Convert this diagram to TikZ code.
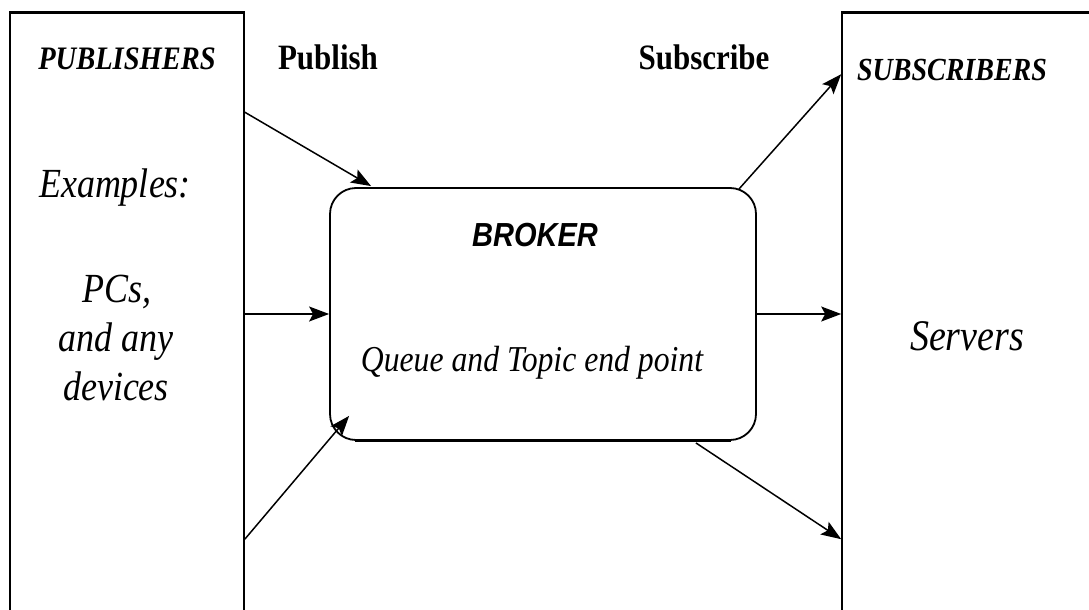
\documentclass[tikz,border=0pt]{standalone}
\usepackage{fontspec}
\setmainfont{Liberation Serif}
\newfontfamily\brokerfont{Liberation Sans}
\usetikzlibrary{arrows.meta,calc}
% labels are set a little taller than their natural shape
\newcommand\tallset[1]{\scalebox{1}[1.15]{#1}}
\begin{document}
\begin{tikzpicture}[x=1pt,y=-1pt,
  sidebox/.style={draw,line width=1.6pt,rectangle,inner sep=0pt},
  brokerbox/.style={draw,line width=1.8pt,rectangle,rounded corners=26pt,inner sep=0pt,
    minimum width=426pt,minimum height=252pt},
  flow/.style={line width=1.5pt,-{Stealth[length=20pt,width=15pt,inset=4pt]}},
  lbl/.style={anchor=base,inner sep=0pt},
  headlbl/.style={lbl,font=\fontsize{31}{36}\selectfont\bfseries},
  rolelbl/.style={lbl,font=\fontsize{28.5}{34}\selectfont\bfseries\itshape},
  bodylbl/.style={lbl,font=\fontsize{36}{42}\selectfont\itshape}]
\useasboundingbox (0,0) rectangle (1089,610);
\clip (0,0) rectangle (1089,610);
% side panels, running off the bottom and right edges
\node[sidebox,minimum width=234pt,minimum height=630pt] (pub) at (127,328) {};
\node[sidebox,minimum width=260pt,minimum height=630pt] (sub) at (972,328) {};
\draw[line width=2.6pt] (pub.north west) -- (pub.north east);
\draw[line width=2.6pt] (sub.north west) -- (sub.north east);
% broker
\node[brokerbox] (broker) at (543,314) {};
\draw[line width=2.8pt] ($(broker.south west)+(26,0)$) -- ($(broker.south east)+(-26,0)$);
% labels
\node[rolelbl] (publbl) at (127,70) {\tallset{PUBLISHERS}};
\node[headlbl] (publish) at (328,70) {\tallset{Publish}};
\node[headlbl] (subscribe) at (704,70) {\tallset{Subscribe}};
\node[rolelbl,font=\fontsize{28}{34}\selectfont\bfseries\itshape] (sublbl) at (952,81) {\tallset{SUBSCRIBERS}};
\node[bodylbl] (examples) at (115,197) {\tallset{Examples:}};
\node[bodylbl] (pcs) at (117,302) {\tallset{PCs,}};
\node[bodylbl] (andany) at (116,351) {\tallset{and any}};
\node[bodylbl] (devices) at (116,400) {\tallset{devices}};
\node[bodylbl,font=\fontsize{38}{44}\selectfont\itshape] (servers) at (967,350) {\tallset{Servers}};
\node[lbl,font=\fontsize{29}{34}\selectfont\brokerfont\bfseries\itshape] (brokerlbl) at (535,246) {\tallset{BROKER}};
\node[lbl,font=\fontsize{31.7}{38}\selectfont\itshape] (queue) at (532,371) {\tallset{Queue and Topic end point}};
% publish flows
\coordinate (p1) at ($(pub.north east)+(0,100)$);
\coordinate (p3) at ($(pub.north east)+(0,527)$);
\draw[flow] (p1) -- ($(broker.north west)+(42,-1)$);
\draw[flow] (pub.east |- broker.west) -- (broker.west);
\draw[flow] (p3) -- ($(broker.south west)+(20,-25)$);
% subscribe flows
\coordinate (s1) at ($(sub.north west)+(0,62)$);
\coordinate (s3) at ($(sub.north west)+(0,527)$);
\draw[flow] ($(broker.north east)+(-18,2)$) -- (s1);
\draw[flow] (broker.east) -- (sub.west |- broker.east);
\draw[flow] ($(broker.south east)+(-61,2)$) -- (s3);
\end{tikzpicture}
\end{document}
